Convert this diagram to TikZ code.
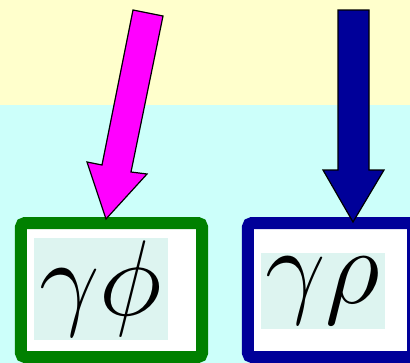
\RequirePackage{fix-cm}
\documentclass[tikz,border=0pt]{standalone}
\definecolor{bgyellow}{HTML}{FFFFCC}
\definecolor{bgcyan}{HTML}{CCFFFA}
\definecolor{boxgreen}{HTML}{008000}
\definecolor{boxblue}{HTML}{000099}
\definecolor{arrowpink}{HTML}{FF00FF}
\definecolor{labelfill}{HTML}{DDF4F0}
\begin{document}
\begin{tikzpicture}[x=1bp,y=-1bp,
  frame/.style={draw, line width=12bp, fill=white, rounded corners=4bp, inner sep=0pt},
  labelbox/.style={fill=labelfill, inner sep=0pt, font=\fontsize{108}{120}\selectfont},
  blockarrow/.style={draw=black, line width=1.2bp, line join=miter}]
\useasboundingbox (0,0) rectangle (410,363);
\clip (0,0) rectangle (410,363);
\fill[bgyellow] (0,0) rectangle (410,105);
\fill[bgcyan] (0,105) rectangle (410,363);
% boxes
\node[frame, draw=boxgreen, minimum width=181bp, minimum height=134bp] (gbox) at (111.5,290) {};
\node[frame, draw=boxblue, minimum width=165bp, minimum height=134bp] (bbox) at (330.5,290) {};
% labels
\node[labelbox, minimum width=134bp, minimum height=102bp] (gtext) at (101,289) {$\gamma\phi$};
\node[labelbox, minimum width=124bp, minimum height=76bp] (btext) at (323,291) {$\gamma\rho$};
% arrows
\draw[blockarrow, fill=arrowpink] (133,10) -- (163,16) -- (131,172) -- (147,174) -- (106,219) -- (87,162) -- (102,165) -- cycle;
\draw[blockarrow, fill=boxblue] (338,10) -- (369,10) -- (369,170) -- (384,170) -- (353,222) -- (323,170) -- (338,170) -- cycle;
\end{tikzpicture}
\end{document}
